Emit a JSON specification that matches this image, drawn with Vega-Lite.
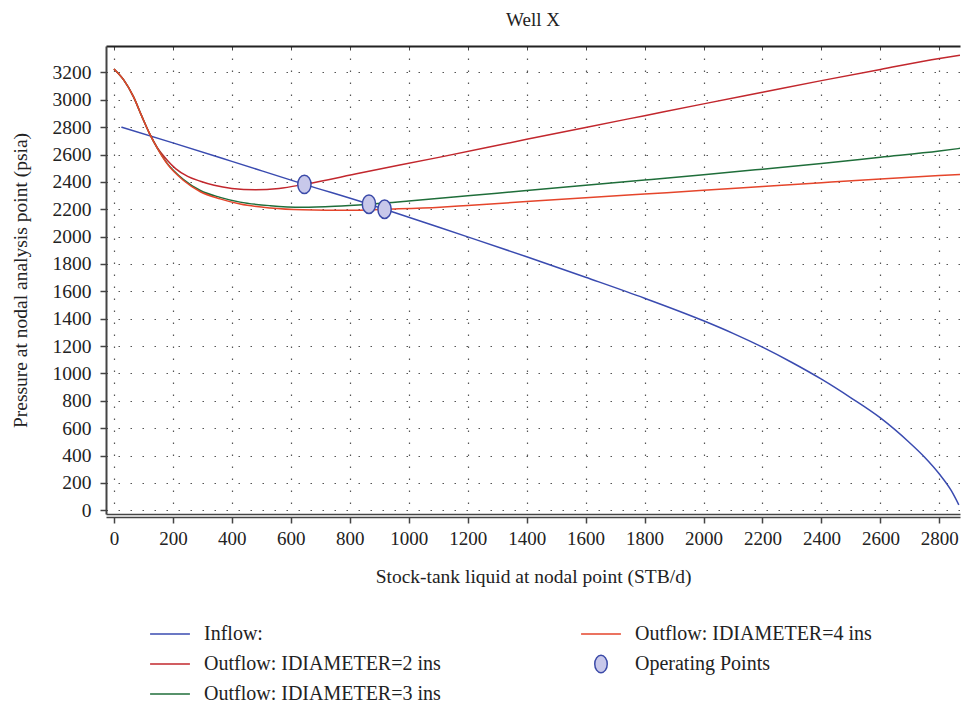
{
  "$schema": "https://vega.github.io/schema/vega-lite/v6.json",
  "width": 854,
  "height": 468,
  "autosize": {"type": "none"},
  "padding": {"left": 106, "top": 46, "right": 1, "bottom": 192},
  "background": "white",
  "title": {"text": "Well X", "font": "Liberation Serif", "fontSize": 19, "fontWeight": "normal", "color": "#222", "offset": 16, "anchor": "middle"},
  "config": {
    "view": {"stroke": null},
    "font": "Liberation Serif",
    "axis": {"labelFont": "Liberation Serif", "titleFont": "Liberation Serif", "labelColor": "#222", "titleColor": "#222", "titleFontWeight": "normal"}
  },
  "datasets": {
    "curves": [
      {"s": "Inflow:", "q": 25, "p": 2800}, {"s": "Inflow:", "q": 200, "p": 2685}, {"s": "Inflow:", "q": 400, "p": 2550}, {"s": "Inflow:", "q": 646, "p": 2382}, {"s": "Inflow:", "q": 865, "p": 2237}, {"s": "Inflow:", "q": 918, "p": 2200}, {"s": "Inflow:", "q": 1100, "p": 2070}, {"s": "Inflow:", "q": 1200, "p": 1998}, {"s": "Inflow:", "q": 1400, "p": 1853}, {"s": "Inflow:", "q": 1600, "p": 1703}, {"s": "Inflow:", "q": 1800, "p": 1550}, {"s": "Inflow:", "q": 2000, "p": 1385}, {"s": "Inflow:", "q": 2100, "p": 1293}, {"s": "Inflow:", "q": 2200, "p": 1192}, {"s": "Inflow:", "q": 2300, "p": 1080}, {"s": "Inflow:", "q": 2400, "p": 958}, {"s": "Inflow:", "q": 2500, "p": 822}, {"s": "Inflow:", "q": 2600, "p": 675}, {"s": "Inflow:", "q": 2700, "p": 492}, {"s": "Inflow:", "q": 2750, "p": 388}, {"s": "Inflow:", "q": 2800, "p": 265}, {"s": "Inflow:", "q": 2840, "p": 145}, {"s": "Inflow:", "q": 2866, "p": 40},
      {"s": "Outflow: IDIAMETER=2 ins", "q": 0, "p": 3225}, {"s": "Outflow: IDIAMETER=2 ins", "q": 33, "p": 3145}, {"s": "Outflow: IDIAMETER=2 ins", "q": 66, "p": 3023}, {"s": "Outflow: IDIAMETER=2 ins", "q": 95, "p": 2877}, {"s": "Outflow: IDIAMETER=2 ins", "q": 123, "p": 2743}, {"s": "Outflow: IDIAMETER=2 ins", "q": 146, "p": 2653}, {"s": "Outflow: IDIAMETER=2 ins", "q": 180, "p": 2560}, {"s": "Outflow: IDIAMETER=2 ins", "q": 210, "p": 2495}, {"s": "Outflow: IDIAMETER=2 ins", "q": 250, "p": 2440}, {"s": "Outflow: IDIAMETER=2 ins", "q": 293, "p": 2405}, {"s": "Outflow: IDIAMETER=2 ins", "q": 340, "p": 2375}, {"s": "Outflow: IDIAMETER=2 ins", "q": 400, "p": 2352}, {"s": "Outflow: IDIAMETER=2 ins", "q": 480, "p": 2342}, {"s": "Outflow: IDIAMETER=2 ins", "q": 560, "p": 2352}, {"s": "Outflow: IDIAMETER=2 ins", "q": 646, "p": 2382}, {"s": "Outflow: IDIAMETER=2 ins", "q": 835, "p": 2465}, {"s": "Outflow: IDIAMETER=2 ins", "q": 1106, "p": 2581}, {"s": "Outflow: IDIAMETER=2 ins", "q": 1400, "p": 2711}, {"s": "Outflow: IDIAMETER=2 ins", "q": 1600, "p": 2798}, {"s": "Outflow: IDIAMETER=2 ins", "q": 1800, "p": 2884}, {"s": "Outflow: IDIAMETER=2 ins", "q": 2000, "p": 2970}, {"s": "Outflow: IDIAMETER=2 ins", "q": 2200, "p": 3055}, {"s": "Outflow: IDIAMETER=2 ins", "q": 2400, "p": 3140}, {"s": "Outflow: IDIAMETER=2 ins", "q": 2600, "p": 3222}, {"s": "Outflow: IDIAMETER=2 ins", "q": 2800, "p": 3302}, {"s": "Outflow: IDIAMETER=2 ins", "q": 2870, "p": 3325},
      {"s": "Outflow: IDIAMETER=3 ins", "q": 0, "p": 3225}, {"s": "Outflow: IDIAMETER=3 ins", "q": 33, "p": 3145}, {"s": "Outflow: IDIAMETER=3 ins", "q": 66, "p": 3023}, {"s": "Outflow: IDIAMETER=3 ins", "q": 95, "p": 2877}, {"s": "Outflow: IDIAMETER=3 ins", "q": 123, "p": 2743}, {"s": "Outflow: IDIAMETER=3 ins", "q": 146, "p": 2650}, {"s": "Outflow: IDIAMETER=3 ins", "q": 180, "p": 2537}, {"s": "Outflow: IDIAMETER=3 ins", "q": 236, "p": 2417}, {"s": "Outflow: IDIAMETER=3 ins", "q": 293, "p": 2337}, {"s": "Outflow: IDIAMETER=3 ins", "q": 360, "p": 2287}, {"s": "Outflow: IDIAMETER=3 ins", "q": 428, "p": 2252}, {"s": "Outflow: IDIAMETER=3 ins", "q": 530, "p": 2226}, {"s": "Outflow: IDIAMETER=3 ins", "q": 640, "p": 2215}, {"s": "Outflow: IDIAMETER=3 ins", "q": 750, "p": 2222}, {"s": "Outflow: IDIAMETER=3 ins", "q": 865, "p": 2237}, {"s": "Outflow: IDIAMETER=3 ins", "q": 1000, "p": 2260}, {"s": "Outflow: IDIAMETER=3 ins", "q": 1200, "p": 2298}, {"s": "Outflow: IDIAMETER=3 ins", "q": 1400, "p": 2337}, {"s": "Outflow: IDIAMETER=3 ins", "q": 1600, "p": 2375}, {"s": "Outflow: IDIAMETER=3 ins", "q": 1800, "p": 2413}, {"s": "Outflow: IDIAMETER=3 ins", "q": 2000, "p": 2452}, {"s": "Outflow: IDIAMETER=3 ins", "q": 2200, "p": 2493}, {"s": "Outflow: IDIAMETER=3 ins", "q": 2400, "p": 2535}, {"s": "Outflow: IDIAMETER=3 ins", "q": 2600, "p": 2580}, {"s": "Outflow: IDIAMETER=3 ins", "q": 2800, "p": 2625}, {"s": "Outflow: IDIAMETER=3 ins", "q": 2870, "p": 2645},
      {"s": "Outflow: IDIAMETER=4 ins", "q": 0, "p": 3225}, {"s": "Outflow: IDIAMETER=4 ins", "q": 33, "p": 3145}, {"s": "Outflow: IDIAMETER=4 ins", "q": 66, "p": 3023}, {"s": "Outflow: IDIAMETER=4 ins", "q": 95, "p": 2877}, {"s": "Outflow: IDIAMETER=4 ins", "q": 123, "p": 2743}, {"s": "Outflow: IDIAMETER=4 ins", "q": 146, "p": 2650}, {"s": "Outflow: IDIAMETER=4 ins", "q": 180, "p": 2533}, {"s": "Outflow: IDIAMETER=4 ins", "q": 236, "p": 2410}, {"s": "Outflow: IDIAMETER=4 ins", "q": 293, "p": 2328}, {"s": "Outflow: IDIAMETER=4 ins", "q": 360, "p": 2276}, {"s": "Outflow: IDIAMETER=4 ins", "q": 428, "p": 2238}, {"s": "Outflow: IDIAMETER=4 ins", "q": 530, "p": 2209}, {"s": "Outflow: IDIAMETER=4 ins", "q": 640, "p": 2196}, {"s": "Outflow: IDIAMETER=4 ins", "q": 800, "p": 2192}, {"s": "Outflow: IDIAMETER=4 ins", "q": 918, "p": 2200}, {"s": "Outflow: IDIAMETER=4 ins", "q": 1106, "p": 2215}, {"s": "Outflow: IDIAMETER=4 ins", "q": 1200, "p": 2228}, {"s": "Outflow: IDIAMETER=4 ins", "q": 1400, "p": 2256}, {"s": "Outflow: IDIAMETER=4 ins", "q": 1600, "p": 2284}, {"s": "Outflow: IDIAMETER=4 ins", "q": 1800, "p": 2311}, {"s": "Outflow: IDIAMETER=4 ins", "q": 2000, "p": 2338}, {"s": "Outflow: IDIAMETER=4 ins", "q": 2200, "p": 2366}, {"s": "Outflow: IDIAMETER=4 ins", "q": 2400, "p": 2394}, {"s": "Outflow: IDIAMETER=4 ins", "q": 2600, "p": 2421}, {"s": "Outflow: IDIAMETER=4 ins", "q": 2800, "p": 2446}, {"s": "Outflow: IDIAMETER=4 ins", "q": 2870, "p": 2454}
    ],
    "ops": [
      {"q": 646, "p": 2382}, {"q": 865, "p": 2237}, {"q": 918, "p": 2200}
    ]
  },
  "layer": [
    {
      "data": {"name": "curves"},
      "mark": {"type": "line", "strokeWidth": 1.5, "interpolate": "monotone", "clip": true},
      "encoding": {
        "x": {
          "field": "q", "type": "quantitative",
          "scale": {"domain": [-27, 2870], "nice": false, "zero": false},
          "axis": {
            "orient": "bottom", "values": [0,200,400,600,800,1000,1200,1400,1600,1800,2000,2200,2400,2600,2800], "format": "d",
            "title": "Stock-tank liquid at nodal point (STB/d)", "titleFontSize": 19.5, "titlePadding": 19,
            "labelFontSize": 19, "labelPadding": 6, "labelFlush": false,
            "tickSize": 6, "tickWidth": 1.5, "tickColor": "#444",
            "domain": true, "domainColor": "#444", "domainWidth": 1.5, "offset": 3,
            "grid": true, "gridColor": "#555", "gridDash": [1.5, 10.5], "gridWidth": 1.2
          }
        },
        "y": {
          "field": "p", "type": "quantitative",
          "scale": {"domain": [-27, 3393], "nice": false, "zero": false},
          "axis": {
            "orient": "left", "values": [0,200,400,600,800,1000,1200,1400,1600,1800,2000,2200,2400,2600,2800,3000,3200], "format": "d",
            "title": "Pressure at nodal analysis point (psia)", "titleFontSize": 19.5, "titlePadding": 22,
            "labelFontSize": 19.5, "labelPadding": 9, "labelFlush": false,
            "tickSize": 6, "tickWidth": 1.5, "tickColor": "#444",
            "domain": true, "domainColor": "#444", "domainWidth": 2,
            "grid": true, "gridColor": "#555", "gridDash": [1.5, 10.5], "gridWidth": 1.2
          }
        },
        "color": {
          "field": "s", "type": "nominal",
          "scale": {
            "domain": ["Inflow:", "Outflow: IDIAMETER=2 ins", "Outflow: IDIAMETER=3 ins", "Outflow: IDIAMETER=4 ins", "Operating Points"],
            "range": ["#3a4bb0", "#c2272d", "#1f6e3a", "#e5452b", "#3b4aa8"]
          },
          "legend": {
            "title": null, "orient": "none", "legendX": 54, "legendY": 578, "columns": 2,
            "columnPadding": 137, "rowPadding": 8,
            "labelFont": "Liberation Serif", "labelFontSize": 20, "labelColor": "#222", "labelOffset": 24, "labelLimit": 400,
            "symbolSize": 300, "symbolStrokeWidth": 1.5,
            "encode": {
              "symbols": {
                "update": {
                  "shape": {"signal": "datum.value === 'Operating Points' ? 'M -0.72,0 A 0.72,1 0 1,1 0.72,0 A 0.72,1 0 1,1 -0.72,0 Z' : 'M -2.3,0 L 2.3,0'"},
                  "fill": {"signal": "datum.value === 'Operating Points' ? '#c8c8ea' : 'transparent'"}
                }
              }
            }
          }
        },
        "order": {"field": "q", "type": "quantitative"}
      }
    },
    {
      "data": {"name": "ops"},
      "mark": {"type": "point", "shape": "M -0.72,0 A 0.72,1 0 1,1 0.72,0 A 0.72,1 0 1,1 -0.72,0 Z", "size": 340, "filled": true, "fill": "#c8c8ea", "stroke": "#3b4aa8", "strokeWidth": 1.5, "opacity": 1, "fillOpacity": 1},
      "encoding": {
        "x": {
          "field": "q", "type": "quantitative",
          "axis": {"orient": "top", "values": [0,200,400,600,800,1000,1200,1400,1600,1800,2000,2200,2400,2600,2800], "labels": false, "title": null, "grid": false, "tickSize": -4, "tickColor": "#444", "tickWidth": 1, "domain": true, "domainColor": "#222", "domainWidth": 2}
        },
        "y": {"field": "p", "type": "quantitative", "axis": null}
      }
    },
    {
      "data": {"name": "ops"},
      "mark": {"type": "point", "opacity": 0},
      "encoding": {
        "x": {
          "field": "q", "type": "quantitative",
          "axis": {"orient": "bottom", "labels": false, "ticks": false, "title": null, "grid": false, "domain": true, "domainColor": "#444", "domainWidth": 1.5, "offset": 0}
        },
        "y": {"field": "p", "type": "quantitative", "axis": null}
      }
    }
  ],
  "resolve": {"axis": {"x": "independent", "y": "independent"}}
}
